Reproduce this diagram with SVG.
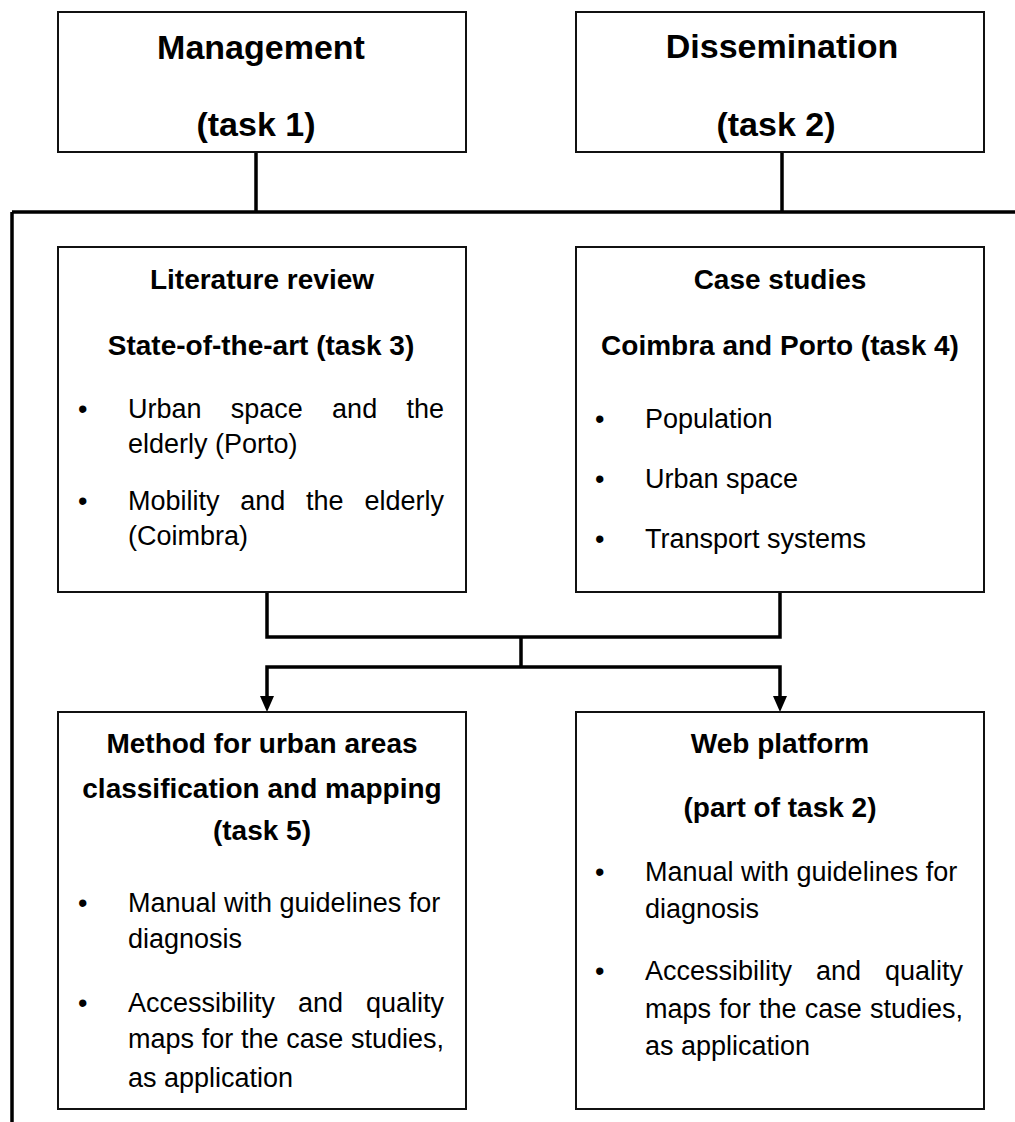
<svg xmlns="http://www.w3.org/2000/svg" width="1015" height="1122" viewBox="0 0 1015 1122">
<style>
.box{fill:#fff;stroke:#111;stroke-width:2}
.con{fill:none;stroke:#000;stroke-width:3.5;stroke-linejoin:miter}
.head{fill:#000}
text{font-family:"Liberation Sans",Arial,sans-serif;fill:#000}
.h1{font-size:34px;font-weight:bold;text-anchor:middle}
.h2{font-size:28px;font-weight:bold;text-anchor:middle}
.b{font-size:27px}
</style>
<rect width="1015" height="1122" fill="#fff"/>
<g id="connectors">
<path class="con" d="M256,152V212M782,152V212M12,212H1015M12,212V1122"/>
<path class="con" d="M267,592V637H780V592M521,637V667M267,697V667H780V697"/>
<polygon class="head" points="260,696 274,696 267,712"/>
<polygon class="head" points="773,696 787,696 780,712"/>
</g>
<g id="management">
<rect class="box" x="58" y="12" width="408" height="140"/>
<text class="h1" x="261" y="59">Management</text>
<text class="h1" x="256" y="136">(task 1)</text>
</g>
<g id="dissemination">
<rect class="box" x="576" y="12" width="408" height="140"/>
<text class="h1" x="782" y="58">Dissemination</text>
<text class="h1" x="776" y="136">(task 2)</text>
</g>
<g id="literature">
<rect class="box" x="58" y="247" width="408" height="345"/>
<text class="h2" x="262" y="289">Literature review</text>
<text class="h2" x="261" y="355">State-of-the-art (task 3)</text>
<text class="b" x="78" y="418">•</text>
<text class="b" y="418"><tspan x="128">Urban</tspan><tspan x="230.8">space</tspan><tspan x="332.1">and</tspan><tspan x="444" text-anchor="end">the</tspan></text>
<text class="b" x="128" y="453">elderly (Porto)</text>
<text class="b" x="78" y="510">•</text>
<text class="b" y="510"><tspan x="128">Mobility</tspan><tspan x="240.3">and</tspan><tspan x="306.1">the</tspan><tspan x="444" text-anchor="end">elderly</tspan></text>
<text class="b" x="128" y="545">(Coimbra)</text>
</g>
<g id="casestudies">
<rect class="box" x="576" y="247" width="408" height="345"/>
<text class="h2" x="780" y="289">Case studies</text>
<text class="h2" x="780" y="355">Coimbra and Porto (task 4)</text>
<text class="b" x="595" y="428">•</text>
<text class="b" x="645" y="428">Population</text>
<text class="b" x="595" y="488">•</text>
<text class="b" x="645" y="488">Urban space</text>
<text class="b" x="595" y="548">•</text>
<text class="b" x="645" y="548">Transport systems</text>
</g>
<g id="method">
<rect class="box" x="58" y="712" width="408" height="397"/>
<text class="h2" x="262" y="753">Method for urban areas</text>
<text class="h2" x="262" y="798">classification and mapping</text>
<text class="h2" x="262" y="840">(task 5)</text>
<text class="b" x="78" y="912">•</text>
<text class="b" x="128" y="912">Manual with guidelines for</text>
<text class="b" x="128" y="948">diagnosis</text>
<text class="b" x="78" y="1012">•</text>
<text class="b" y="1012"><tspan x="128">Accessibility</tspan><tspan x="298">and</tspan><tspan x="444" text-anchor="end">quality</tspan></text>
<text class="b" y="1048"><tspan x="128">maps</tspan><tspan x="201.8">for</tspan><tspan x="241">the</tspan><tspan x="286.3">case</tspan><tspan x="444" text-anchor="end">studies,</tspan></text>
<text class="b" x="128" y="1087">as application</text>
</g>
<g id="webplatform">
<rect class="box" x="576" y="712" width="408" height="397"/>
<text class="h2" x="780" y="753">Web platform</text>
<text class="h2" x="780" y="817">(part of task 2)</text>
<text class="b" x="595" y="881">•</text>
<text class="b" x="645" y="881">Manual with guidelines for</text>
<text class="b" x="645" y="918">diagnosis</text>
<text class="b" x="595" y="980">•</text>
<text class="b" y="980"><tspan x="645">Accessibility</tspan><tspan x="816">and</tspan><tspan x="963" text-anchor="end">quality</tspan></text>
<text class="b" y="1018"><tspan x="645">maps</tspan><tspan x="719.3">for</tspan><tspan x="759">the</tspan><tspan x="804.8">case</tspan><tspan x="963" text-anchor="end">studies,</tspan></text>
<text class="b" x="645" y="1055">as application</text>
</g>
</svg>
